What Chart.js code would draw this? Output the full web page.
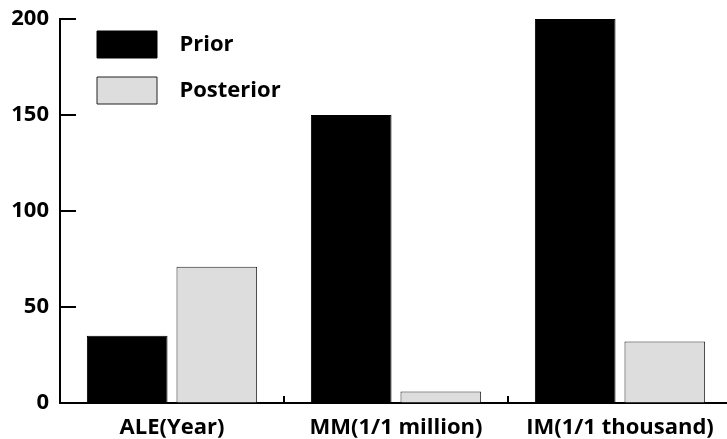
<!DOCTYPE html>
<html lang="en">

<head>
    <meta charset="UTF-8">
    <script src="https://cdn.jsdelivr.net/npm/chart.js@4.4.0/dist/chart.umd.min.js"></script>
    <title>Prior vs Posterior</title>
    <style>
        body { margin: 0; background: #fff; overflow: hidden; }
        #wrap { width: 727px; height: 439px; overflow: hidden; }
    </style>
</head>

<body>
    <div id="wrap"><canvas id="myChart" width="740" height="439"></canvas></div>

    <script>
        const categories = ['ALE(Year)', 'MM(1/1 million)', 'IM(1/1 thousand)']
        const priorValues = [35, 150, 200]
        const posteriorValues = [71, 6, 32]
        const yTicks = [0, 50, 100, 150, 200]

        const font = { family: "'Open Sans'", size: 22, weight: 'bold' }

        // tick marks point into the plot, so draw them after the axes
        const innerTicks = {
            id: 'innerTicks',
            afterDraw(chart) {
                const ctx = chart.ctx
                const x = chart.scales.x
                const y = chart.scales.y
                ctx.save()
                ctx.strokeStyle = '#000'
                ctx.lineWidth = 2
                yTicks.forEach((v) => {
                    const py = y.getPixelForValue(v)
                    ctx.beginPath()
                    ctx.moveTo(y.right, py)
                    ctx.lineTo(y.right + 16, py)
                    ctx.stroke()
                })
                for (let i = 1; i < categories.length; i++) {
                    const px = x.getPixelForValue(i - 0.5)
                    ctx.beginPath()
                    ctx.moveTo(px, x.top)
                    ctx.lineTo(px, x.top - 7)
                    ctx.stroke()
                }
                ctx.restore()
            }
        }

        // move the in-plot legend to where the original has it
        const legendShift = {
            id: 'legendShift',
            afterLayout(chart) {
                const l = chart.legend
                const dy = 31 - chart.chartArea.top
                l.left += 18
                l.right += 18
                l.top += dy
                l.bottom += dy
            }
        }

        const ctx = document.getElementById('myChart').getContext('2d')

        const myChart = new Chart(ctx, {
            type: 'bar',
            data: {
                labels: categories,
                datasets: [{
                    label: 'Prior',
                    data: priorValues,
                    backgroundColor: '#000',
                    borderColor: '#000',
                    borderWidth: 1,
                    categoryPercentage: 0.8,
                    barPercentage: 0.9
                }, {
                    label: 'Posterior',
                    data: posteriorValues,
                    backgroundColor: '#dddddd',
                    borderColor: '#222',
                    borderWidth: 1,
                    categoryPercentage: 0.8,
                    barPercentage: 0.9
                }]
            },
            options: {
                responsive: false,
                animation: false,
                layout: { padding: { left: 0, right: 8, top: 19, bottom: 0 } },
                plugins: {
                    tooltip: { enabled: false },
                    legend: {
                        position: 'chartArea',
                        align: 'start',
                        labels: {
                            boxWidth: 60,
                            boxHeight: 27,
                            padding: 19,
                            color: '#000',
                            font: font,
                            generateLabels: (chart) => Chart.defaults.plugins.legend.labels.generateLabels(chart)
                                .map((item) => ({ ...item, text: '  ' + item.text }))
                        }
                    }
                },
                scales: {
                    x: {
                        grid: { drawOnChartArea: false, drawTicks: false },
                        border: { display: true, color: '#000', width: 2 },
                        ticks: { color: '#000', font: font, padding: 12, maxRotation: 0 },
                        afterFit: (scale) => { scale.height = 36 }
                    },
                    y: {
                        min: 0,
                        max: 200,
                        grid: { drawOnChartArea: false, drawTicks: false },
                        border: { display: true, color: '#000', width: 2 },
                        ticks: {
                            color: '#000',
                            font: font,
                            padding: 11,
                            stepSize: 50
                        },
                        afterFit: (scale) => {
                            scale.width = 60
                            scale.paddingTop = 0
                            scale.paddingBottom = 0
                        }
                    }
                }
            },
            plugins: [innerTicks, legendShift]
        })
    </script>
</body>

</html>
